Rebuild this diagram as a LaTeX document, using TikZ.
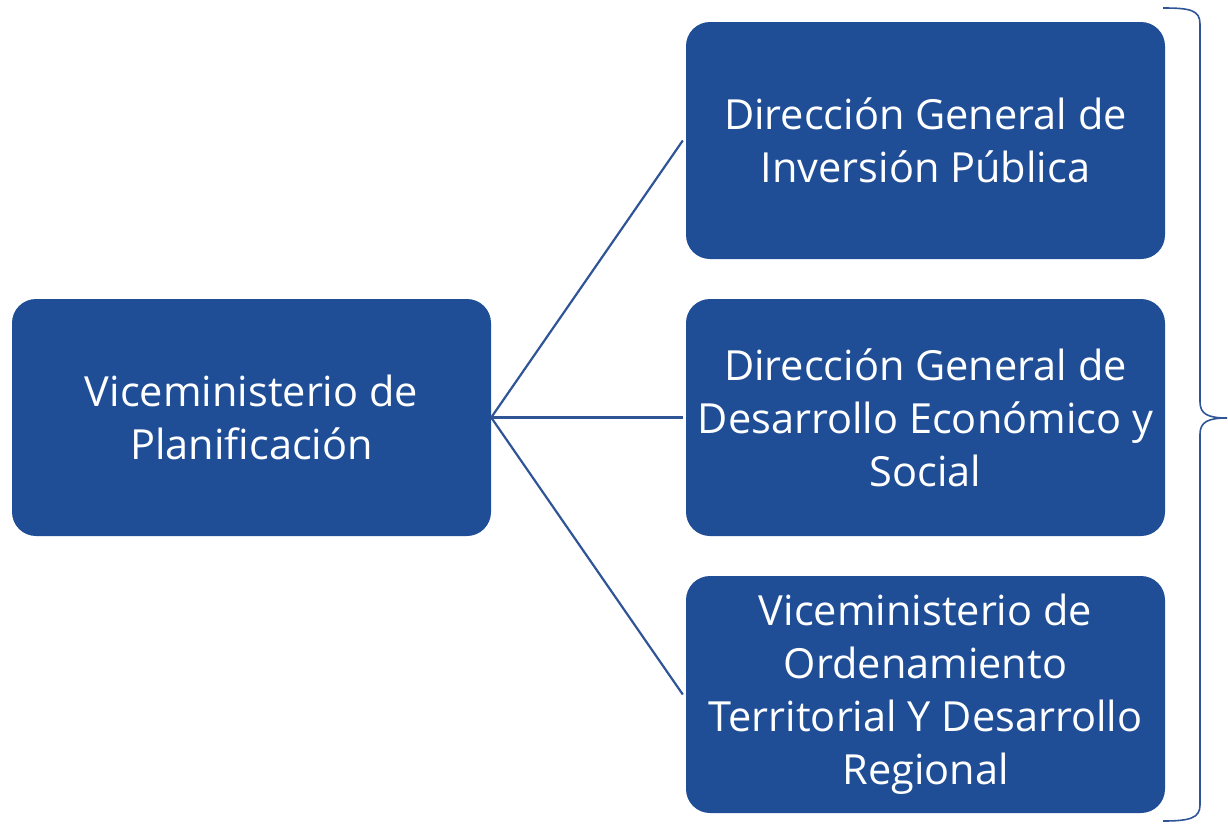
\documentclass[tikz,border=0pt]{standalone}
\usepackage{fontspec}
\setmainfont{Open Sans}
\definecolor{boxblue}{RGB}{31,78,151}
\definecolor{lineblue}{RGB}{47,85,151}
\begin{document}
\begin{tikzpicture}[x=1pt,y=-1pt,
  box/.style={fill=boxblue, rounded corners=24pt, minimum width=479pt, minimum height=237pt, text=white, align=center, font=\fontsize{41.5}{53}\selectfont, inner sep=0pt},
  conn/.style={draw=lineblue, line width=2.2pt}]
\useasboundingbox (0,0) rectangle (1228,825);
\node[box] (vp) at (251.5,417.5) {Viceministerio de\\Planificación};
\node[box] (dgip) at (925.5,140.5) {Dirección General de\\Inversión Pública};
\node[box] (dgdes) at (925.5,417.5) {Dirección General de\\Desarrollo Económico y\\Social};
\node[box] (vot) at (925.5,694.5) {Viceministerio de\\Ordenamiento\\Territorial Y Desarrollo\\Regional};
\coordinate (j) at (vp.east);
\draw[conn] (j) -- ([xshift=-3pt]dgip.west);
\draw[conn] (j) -- ([xshift=-3pt]dgdes.west);
\draw[conn] (j) -- ([xshift=-3pt]vot.west);
\coordinate (bt) at (1163,8);
\coordinate (bb) at (1163,821);
\coordinate (tip) at (1227,418);
\draw[lineblue, line width=1.6pt] (bt) .. controls (1190,8) and (1200,10) .. (1200,24) -- (1200,402) .. controls (1200,414) and (1208,418) .. (tip) .. controls (1208,418) and (1200,422) .. (1200,434) -- (1200,805) .. controls (1200,818) and (1190,821) .. (bb);
\end{tikzpicture}
\end{document}
